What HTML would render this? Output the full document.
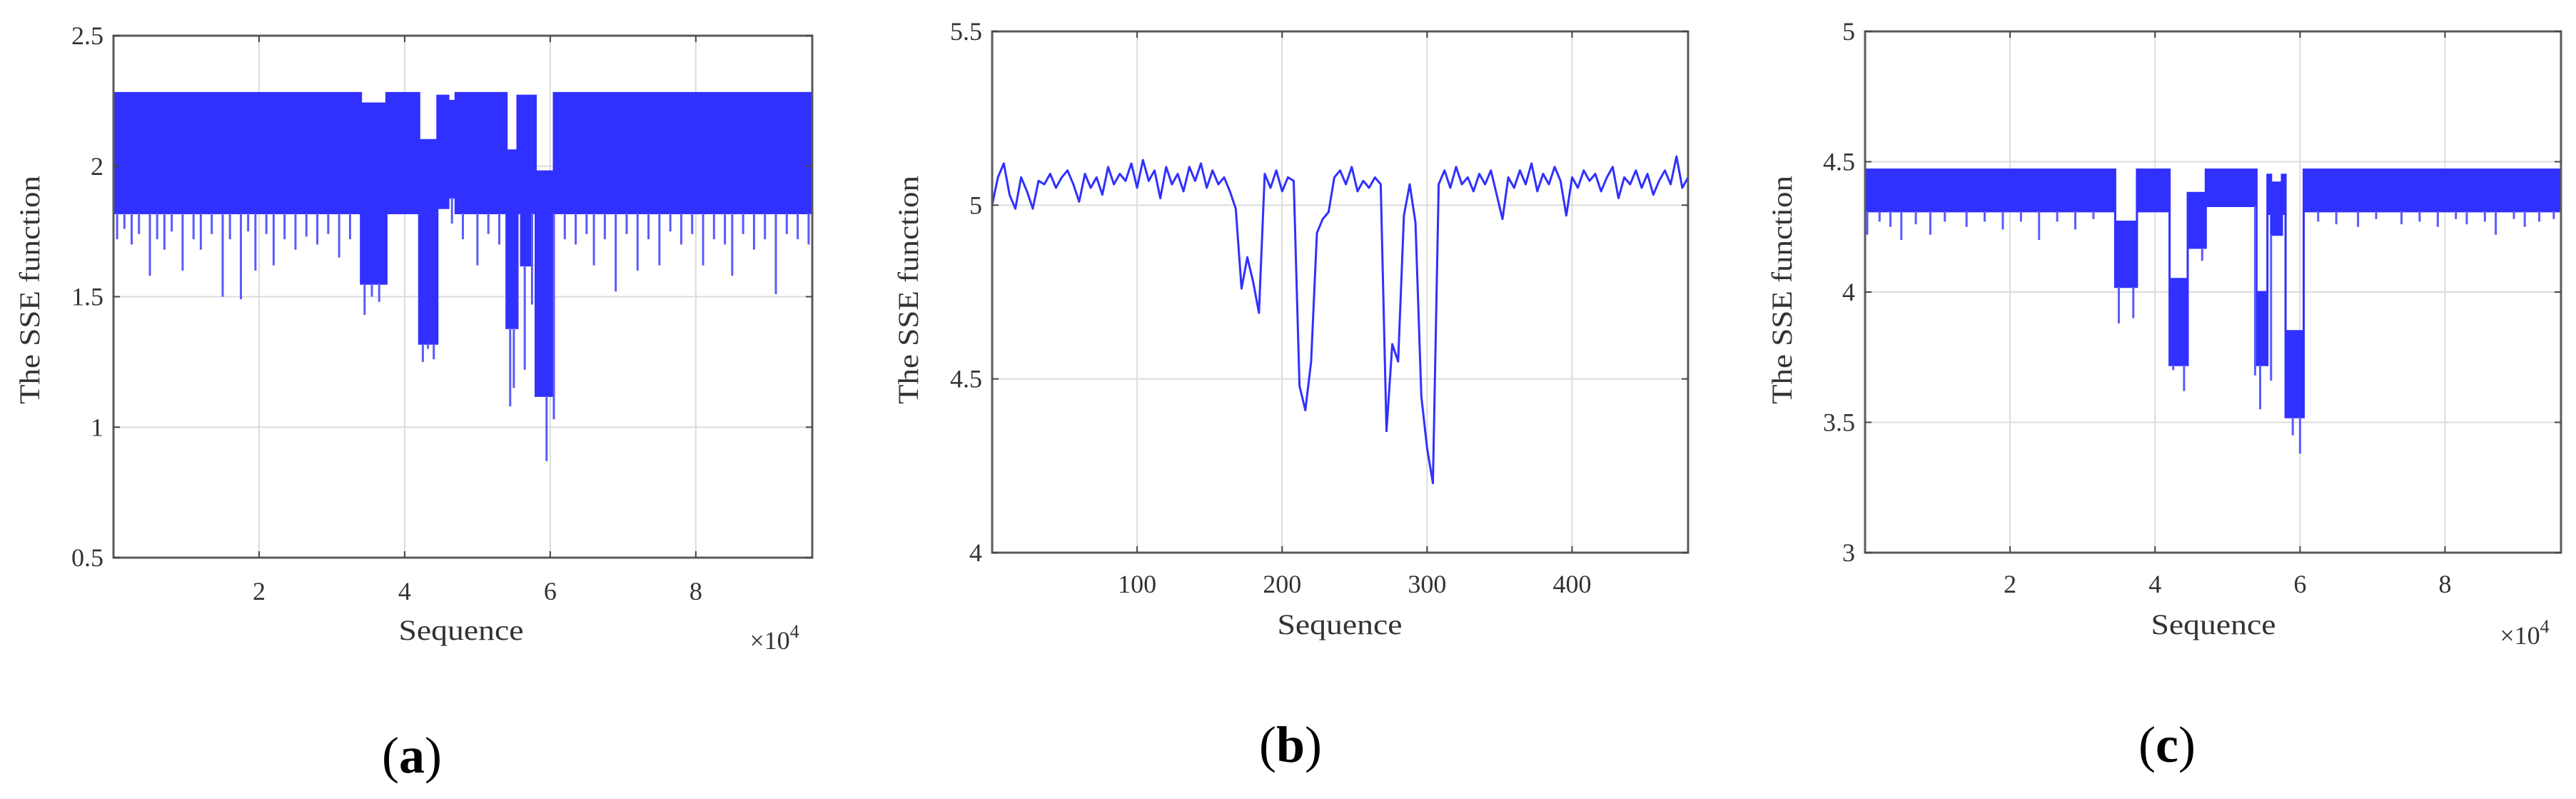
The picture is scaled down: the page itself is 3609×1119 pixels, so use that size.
<!DOCTYPE html>
<html><head><meta charset="utf-8"><style>
html,body{margin:0;padding:0;background:#fff;}
svg{display:block;font-family:"Liberation Serif",serif;}
</style></head><body>
<svg id="fig" width="3609" height="1119" viewBox="0 0 3609 1119" xmlns="http://www.w3.org/2000/svg"></svg>
<script>
// ---------- Panel (a) data (x in units of 1e3) ----------
const aSegX0 = [0, 34, 37.5, 42, 44.5, 46, 47, 54, 55.5, 56, 57.5, 58, 60.5];
const aSegX1 = [34, 37.5, 42, 44.5, 46, 47, 54, 55.5, 56, 57.5, 58, 60.5, 96];
const aSegUp = [2.28, 2.24, 2.28, 2.10, 2.27, 2.25, 2.28, 2.06, 2.27, 2.27, 2.27, 1.98, 2.28];
const aSegLo = [1.82, 1.55, 1.82, 1.32, 1.84, 1.88, 1.82, 1.38, 1.82, 1.62, 1.82, 1.12, 1.82];
const aSpikeX = [0.5,1.5,2.5,3.5,5,6,7,8,9.5,11,12,13.5,15,16,17.5,18.5,19.5,21,22,23.5,25,26.5,28,29.5,31,32.5,34.5,35.5,36.5,42.5,43.2,44,46.5,48,50,51.5,53,54.5,55,56.5,57.5,59.5,60.5,62,63.5,65,66,67.5,69,70.5,72,73.5,75,76.5,78,79.5,81,82.5,84,85,86.5,88,89.5,91,92.5,94,95.5];
const aSpikeY = [1.72,1.76,1.70,1.74,1.58,1.72,1.68,1.75,1.60,1.72,1.68,1.74,1.50,1.72,1.49,1.75,1.60,1.74,1.62,1.72,1.68,1.73,1.70,1.74,1.65,1.72,1.43,1.50,1.48,1.25,1.30,1.26,1.78,1.72,1.62,1.74,1.70,1.08,1.15,1.22,1.47,0.87,1.03,1.72,1.70,1.74,1.62,1.72,1.52,1.74,1.60,1.72,1.62,1.75,1.70,1.74,1.62,1.72,1.70,1.58,1.74,1.68,1.72,1.51,1.74,1.72,1.70];
const aXTicks = [20,40,60,80];
const aXTickLabels = ["2","4","6","8"];
const aYTicks = [0.5,1,1.5,2,2.5];
const aYTickLabels = ["0.5","1","1.5","2","2.5"];

// ---------- Panel (b) data ----------
const bStep = 4;
const bValues = [5.00,5.08,5.12,5.03,4.99,5.08,5.04,4.99,5.07,5.06,5.09,5.05,5.08,5.10,5.06,5.01,5.09,5.05,5.08,5.03,5.11,5.06,5.09,5.07,5.12,5.05,5.13,5.07,5.10,5.02,5.11,5.06,5.09,5.04,5.11,5.07,5.12,5.05,5.10,5.06,5.08,5.04,4.99,4.76,4.85,4.78,4.69,5.09,5.05,5.10,5.04,5.08,5.07,4.48,4.41,4.55,4.92,4.96,4.98,5.08,5.10,5.06,5.11,5.04,5.07,5.05,5.08,5.06,4.35,4.60,4.55,4.97,5.06,4.95,4.45,4.30,4.20,5.06,5.10,5.05,5.11,5.06,5.08,5.04,5.09,5.06,5.10,5.03,4.96,5.08,5.05,5.10,5.06,5.12,5.04,5.09,5.06,5.11,5.07,4.97,5.08,5.05,5.10,5.07,5.09,5.04,5.08,5.11,5.02,5.08,5.06,5.10,5.05,5.09,5.03,5.07,5.10,5.06,5.14,5.05,5.08];
const bXTicks = [100,200,300,400];
const bXTickLabels = ["100","200","300","400"];
const bYTicks = [4,4.5,5,5.5];
const bYTickLabels = ["4","4.5","5","5.5"];

// ---------- Panel (c) data ----------
const cSegX0 = [0, 34.5, 37.5, 42, 44.5, 47, 54, 55.5, 56, 57.5, 58, 60.5];
const cSegX1 = [34.5, 37.5, 42, 44.5, 47, 54, 55.5, 56, 57.5, 58, 60.5, 96];
const cSegUp = [4.47, 4.27, 4.47, 4.05, 4.38, 4.47, 4.00, 4.45, 4.42, 4.45, 3.85, 4.47];
const cSegLo = [4.31, 4.02, 4.31, 3.72, 4.17, 4.33, 3.72, 4.30, 4.22, 4.30, 3.52, 4.31];
const cSpikeX = [0.3,2,3.5,5,7,9,11,14,16.5,19,21.5,24,26.5,29,31.5,35,37,42.5,44,46.5,53.8,54.5,56,59,60,62.5,65,68,70.5,74,76.5,79,81.5,83,85.5,87,89.5,91,93,95];
const cSpikeY = [4.22,4.27,4.25,4.20,4.26,4.22,4.27,4.25,4.27,4.24,4.27,4.20,4.27,4.24,4.28,3.88,3.90,3.70,3.62,4.12,3.68,3.55,3.66,3.45,3.38,4.27,4.26,4.25,4.28,4.26,4.27,4.25,4.28,4.26,4.27,4.22,4.28,4.25,4.27,4.28];
const cXTicks = [20,40,60,80];
const cXTickLabels = ["2","4","6","8"];
const cYTicks = [3,3.5,4,4.5,5];
const cYTickLabels = ["3","3.5","4","4.5","5"];

const NS = "http://www.w3.org/2000/svg";
const svg = document.getElementById("fig");
const BLUE = "#3030ff";
function mk(tag, attrs, parent){const e=document.createElementNS(NS,tag);for(const k in attrs)e.setAttribute(k,attrs[k]);(parent||svg).appendChild(e);return e;}

const panels = [
 {id:"a", L:159, R:1138, T:50, B:781, xmin:0, xmax:96, ymin:0.5, ymax:2.5, xt:aXTicks, xtl:aXTickLabels, yt:aYTicks, ytl:aYTickLabels, ylabX:42, seqX:646, seqY:883, tickY:828, exp:true, expX:1085, expY:897, capX:577, capY:1058},
 {id:"b", L:1390, R:2365, T:44, B:774, xmin:0, xmax:480, ymin:4, ymax:5.5, xt:bXTicks, xtl:bXTickLabels, yt:bYTicks, ytl:bYTickLabels, ylabX:1273, seqX:1877, seqY:875, tickY:818, exp:false, capX:1808, capY:1043},
 {id:"c", L:2613, R:3588, T:44, B:774, xmin:0, xmax:96, ymin:3, ymax:5, xt:cXTicks, xtl:cXTickLabels, yt:cYTicks, ytl:cYTickLabels, ylabX:2497, seqX:3101, seqY:875, tickY:818, exp:true, expX:3537, expY:890, capX:3036, capY:1043}
];

panels.forEach(p=>{
  const g = mk("g",{});
  
  
  const sx = v => p.L + (v-p.xmin)/(p.xmax-p.xmin)*(p.R-p.L);
  const sy = v => p.B - (v-p.ymin)/(p.ymax-p.ymin)*(p.B-p.T);
  p.sx=sx; p.sy=sy; p.g=g;
  p.xt.forEach(t=>{const l=mk("line",{x1:sx(t),x2:sx(t),y1:p.T,y2:p.B,stroke:"#dcdcdc","stroke-width":2},g);
    
    });
  p.yt.forEach(t=>{const l=mk("line",{x1:p.L,x2:p.R,y1:sy(t),y2:sy(t),stroke:"#dcdcdc","stroke-width":2},g);
    
    });
  p.series = mk("g",{},g);
  
  
});

function drawBand(p, x0s, x1s, ups, los, spx, spy){
  let top=[], bot=[];
  for(let i=0;i<x0s.length;i++){top.push([p.sx(x0s[i]),p.sy(ups[i])],[p.sx(x1s[i]),p.sy(ups[i])]);
    bot.push([p.sx(x0s[i]),p.sy(los[i])],[p.sx(x1s[i]),p.sy(los[i])]);}
  const pts = top.concat(bot.reverse()).map(q=>q[0].toFixed(1)+","+q[1].toFixed(1)).join(" ");
  const poly = mk("polygon",{points:pts,fill:BLUE,stroke:BLUE,"stroke-width":3},p.series);
  
  
  for(let i=0;i<spx.length;i++){
    let lo = los[0];
    for(let j=0;j<x0s.length;j++) if(spx[i]>=x0s[j]&&spx[i]<=x1s[j]) lo=los[j];
    const l = mk("line",{x1:p.sx(spx[i]),x2:p.sx(spx[i]),y1:p.sy(lo),y2:p.sy(spy[i]),stroke:"#5a5aff","stroke-width":3},p.series);
    
    
  }
}
drawBand(panels[0], aSegX0, aSegX1, aSegUp, aSegLo, aSpikeX, aSpikeY);
drawBand(panels[2], cSegX0, cSegX1, cSegUp, cSegLo, cSpikeX, cSpikeY);
{
  const p = panels[1];
  const pts = bValues.map((v,i)=>p.sx(i*bStep).toFixed(1)+","+p.sy(v).toFixed(1)).join(" ");
  const pl = mk("polyline",{points:pts,fill:"none",stroke:BLUE,"stroke-width":3,"stroke-linejoin":"round"},p.series);
  
  
}

panels.forEach(p=>{
  const g=p.g, sx=p.sx, sy=p.sy;
  const box = mk("rect",{x:p.L,y:p.T,width:p.R-p.L,height:p.B-p.T,fill:"none",stroke:"#5a5a5a","stroke-width":3},g);
  
  
  p.xt.forEach((t,i)=>{
    mk("line",{x1:sx(t),x2:sx(t),y1:p.B,y2:p.B-9,stroke:"#444","stroke-width":2},g);
    mk("line",{x1:sx(t),x2:sx(t),y1:p.T,y2:p.T+9,stroke:"#444","stroke-width":2},g);
    const tx = mk("text",{x:sx(t),y:p.tickY+12,"font-size":36,fill:"#333","text-anchor":"middle"},g);
    tx.textContent = p.xtl[i];
    
    
  });
  p.yt.forEach((t,i)=>{
    mk("line",{x1:p.L,x2:p.L+9,y1:sy(t),y2:sy(t),stroke:"#444","stroke-width":2},g);
    mk("line",{x1:p.R,x2:p.R-9,y1:sy(t),y2:sy(t),stroke:"#444","stroke-width":2},g);
    const tx = mk("text",{x:p.L-14,y:sy(t)+12,"font-size":36,fill:"#333","text-anchor":"end"},g);
    tx.textContent = p.ytl[i];
    
    
  });
  const yl = mk("text",{x:0,y:0,"font-size":40,fill:"#333","text-anchor":"middle",textLength:320,lengthAdjust:"spacingAndGlyphs",transform:`translate(${p.ylabX+13},406) rotate(-90)`},g);
  yl.textContent = "The SSE function";
  
  
  const xl = mk("text",{x:p.seqX,y:p.seqY+13,"font-size":40,fill:"#333","text-anchor":"middle",textLength:175,lengthAdjust:"spacingAndGlyphs"},g);
  xl.textContent = "Sequence";
  
  
  if(p.exp){
    const ex = mk("text",{x:p.expX,y:p.expY+12,"font-size":36,fill:"#333","text-anchor":"middle"},g);
    ex.innerHTML = '×10<tspan dy="-16" font-size="26">4</tspan>';
    
    
  }
  const cap = mk("text",{x:p.capX,y:p.capY+24,"font-size":72,fill:"#000","text-anchor":"middle"},g);
  cap.innerHTML = '(<tspan font-weight="bold">'+p.id+'</tspan>)';
  
  
});
</script>
</body></html>
